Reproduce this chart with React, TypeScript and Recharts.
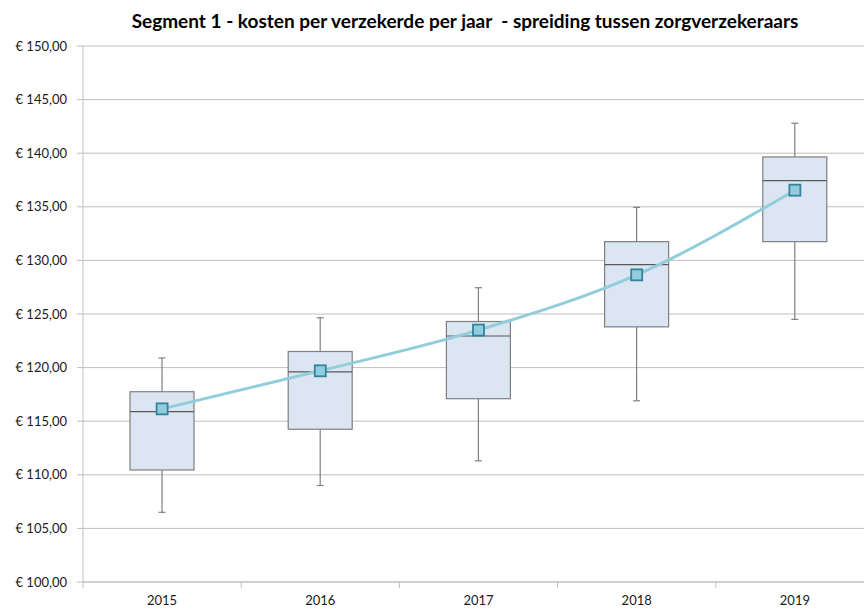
import { ComposedChart, Bar, Line, XAxis, YAxis, CartesianGrid } from 'recharts'

const years = ['2015', '2016', '2017', '2018', '2019']
const minVals = [106.5, 109.0, 111.3, 116.9, 124.5]
const q1Vals = [110.45, 114.25, 117.1, 123.8, 131.75]
const medianVals = [115.9, 119.6, 122.95, 129.6, 137.45]
const q3Vals = [117.75, 121.5, 124.3, 131.75, 139.65]
const maxVals = [120.9, 124.65, 127.45, 134.95, 142.8]
const meanVals = [116.15, 119.7, 123.5, 128.65, 136.55]
const yTicks = [100, 105, 110, 115, 120, 125, 130, 135, 140, 145, 150]

const data = years.map((year, i) => ({
  year,
  box: [q1Vals[i], q3Vals[i]],
  min: minVals[i],
  median: medianVals[i],
  max: maxVals[i],
  mean: meanVals[i],
}))

const FONT = 'Lato, "Open Sans", sans-serif'

function fmtEuro(v: number) {
  return '€ ' + v.toFixed(2).replace('.', ',')
}

function BoxShape(props: any) {
  const { x, y, width, height, payload } = props
  const [q1, q3] = payload.box
  const ppu = height / (q3 - q1)
  const toPx = (v: number) => y + (q3 - v) * ppu
  const cx = x + width / 2
  const cap = 3.5
  const stroke = '#7f7f7f'
  return (
    <g>
      <line x1={cx} x2={cx} y1={toPx(payload.max)} y2={y} stroke={stroke} strokeWidth={1.2} />
      <line x1={cx} x2={cx} y1={y + height} y2={toPx(payload.min)} stroke={stroke} strokeWidth={1.2} />
      <line x1={cx - cap} x2={cx + cap} y1={toPx(payload.max)} y2={toPx(payload.max)} stroke={stroke} strokeWidth={1.2} />
      <line x1={cx - cap} x2={cx + cap} y1={toPx(payload.min)} y2={toPx(payload.min)} stroke={stroke} strokeWidth={1.2} />
      <rect x={x} y={y} width={width} height={height} fill="#dce6f2" stroke={stroke} strokeWidth={1.2} />
      <line x1={x} x2={x + width} y1={toPx(payload.median)} y2={toPx(payload.median)} stroke="#595959" strokeWidth={1.2} />
    </g>
  )
}

function MeanDot(props: any) {
  const { cx, cy } = props
  if (cx == null || cy == null) return null
  return <rect x={cx - 5.5} y={cy - 5.5} width={11} height={11} fill="#93cddd" stroke="#31849b" strokeWidth={1.8} />
}

function YearTick(props: any) {
  const { x, y, payload } = props
  const half = payload.offset ?? 79
  return (
    <g>
      <line x1={x - half} x2={x - half} y1={y - 8} y2={y - 2} stroke="#bfbfbf" />
      <text x={x} y={y + 15} textAnchor="middle" fill="#1a1a1a" fontSize={13} fontFamily={FONT}>
        {payload.value}
      </text>
    </g>
  )
}

export default function App() {
  return (
    <div style={{ position: 'absolute', left: 0, top: 0, width: 864, height: 610, overflow: 'hidden', background: '#fff' }}>
      <div
        style={{
          position: 'absolute',
          left: 465,
          top: 9,
          transform: 'translateX(-50%)',
          whiteSpace: 'pre',
          fontFamily: FONT,
          fontWeight: 'bold',
          fontSize: 19,
          lineHeight: '24px',
          color: '#000',
        }}
      >
        {'Segment 1 - kosten per verzekerde per jaar  - spreiding tussen zorgverzekeraars'}
      </div>
      <ComposedChart width={880} height={610} data={data} margin={{ top: 46, right: 6, bottom: 0, left: 0 }}>
        <CartesianGrid vertical={false} stroke="#bfbfbf" />
        <XAxis
          dataKey="year"
          height={28}
          axisLine={{ stroke: '#bfbfbf' }}
          tickLine={false}
          tick={<YearTick />}
          interval={0}
        />
        <YAxis
          type="number"
          domain={[100, 150]}
          ticks={yTicks}
          width={83}
          tickFormatter={fmtEuro}
          axisLine={{ stroke: '#bfbfbf' }}
          tickLine={{ stroke: '#bfbfbf' }}
          tickSize={6}
          tickMargin={10}
          tick={{ fill: '#1a1a1a', fontSize: 13, fontFamily: FONT }}
        />
        <Bar dataKey="box" barSize={64} shape={<BoxShape />} isAnimationActive={false} />
        <Line
          type="monotone"
          dataKey="mean"
          stroke="#92cddc"
          strokeWidth={3}
          dot={<MeanDot />}
          activeDot={false}
          isAnimationActive={false}
        />
      </ComposedChart>
    </div>
  )
}
